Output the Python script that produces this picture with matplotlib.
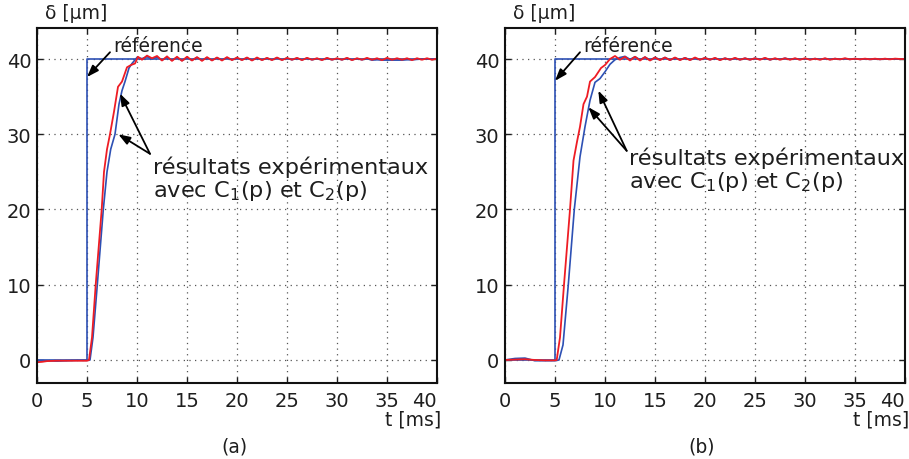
import matplotlib
matplotlib.use('Agg')
import matplotlib.pyplot as plt

plt.rcParams['font.family'] = ['DejaVu Sans']

# shared sample times for the settled part (ms)
settle_t = [10.5, 11, 11.5, 12, 12.5, 13, 13.5, 14, 14.5, 15, 15.5, 16, 16.5, 17, 17.5,
            18, 18.5, 19, 19.5, 20, 20.5, 21, 21.5, 22, 22.5, 23, 23.5, 24, 24.5, 25,
            25.5, 26, 26.5, 27, 27.5, 28, 28.5, 29, 29.5, 30, 30.5, 31, 31.5, 32, 32.5,
            33, 33.5, 34, 34.5, 35, 35.5, 36, 36.5, 37, 37.5, 38, 38.5, 39, 39.5, 40]

ref_t = [0, 5, 5, 40]
ref_v = [0, 0, 40, 40]

# panel (a)
a_red_t = [0, 0.5, 1, 2, 3, 4, 5, 5.2, 5.5, 5.87, 6.47, 6.7, 7.0, 7.3, 7.7, 8.1, 8.5,
           9.0, 9.4, 9.8, 10.1]
a_red_v = [-0.3, -0.25, -0.15, -0.1, -0.1, -0.1, -0.1, 0, 3, 10, 20, 25, 28, 30, 33,
           36.3, 37.0, 38.9, 39.2, 39.4, 40.3]
a_red_s = [39.9, 40.45, 40.1, 40.4, 39.8, 40.35, 39.75, 40.3, 39.75, 40.3, 39.8, 40.25,
           39.75, 40.25, 39.8, 40.2, 39.8, 40.25, 39.85, 40.2, 39.85, 40.2, 39.8, 40.2,
           39.85, 40.15, 39.85, 40.2, 39.85, 40.15, 39.9, 40.15, 39.85, 40.15, 39.9, 40.1,
           39.85, 40.15, 39.9, 40.1, 39.9, 40.15, 39.85, 40.1, 39.9, 40.15, 39.9, 40.1,
           39.85, 40.15, 39.9, 40.1, 39.9, 40.1, 39.85, 40.1, 39.9, 40.1, 39.9, 40.05]
a_blue_t = [0, 1, 2, 3, 4, 5, 5.3, 5.6, 6.03, 6.63, 7.0, 7.37, 7.8, 8.2, 8.5, 8.8, 9.2,
            9.5, 10.0]
a_blue_v = [-0.1, -0.1, -0.15, -0.1, -0.05, -0.05, 0, 3, 10, 20, 25, 28, 30, 34, 35.8,
            37, 38.8, 39.4, 40.2]
a_blue_s = [40.05, 40.3, 40.0, 40.25, 39.85, 40.2, 39.85, 40.2, 39.8, 40.15, 39.85, 40.2,
            39.85, 40.15, 39.85, 40.15, 39.9, 40.15, 39.9, 40.1, 39.9, 40.15, 39.85, 40.1,
            39.9, 40.1, 39.9, 40.15, 39.9, 40.1, 39.9, 40.1, 39.9, 40.1, 39.9, 40.05,
            39.9, 40.1, 39.9, 40.05, 39.9, 40.1, 39.9, 40.05, 39.9, 40.05, 39.85, 39.9,
            39.85, 39.85, 39.85, 39.85, 39.85, 39.9, 39.9, 39.95, 40.0, 40.0, 40.0, 40.0]

# panel (b)
b_red_t = [0, 1, 2, 3, 4, 5, 5.17, 5.5, 5.9, 6.5, 6.85, 7.2, 7.5, 7.85, 8.2, 8.5, 9.0,
           9.6, 10.0]
b_red_v = [0, 0.05, 0.1, 0.0, -0.05, -0.05, 0, 3, 10, 20, 26.5, 29, 31, 34, 35, 37,
           37.6, 38.8, 39.2]
b_red_s = [40.0, 40.4, 39.9, 40.3, 39.8, 40.3, 39.8, 40.25, 39.8, 40.2, 39.85, 40.2,
           39.85, 40.2, 39.85, 40.15, 39.85, 40.2, 39.9, 40.15, 39.9, 40.15, 39.85, 40.1,
           39.9, 40.15, 39.9, 40.1, 39.9, 40.1, 39.9, 40.15, 39.9, 40.1, 39.9, 40.1,
           39.9, 40.1, 39.9, 40.1, 39.9, 40.05, 39.9, 40.1, 39.9, 40.05, 39.95, 40.1,
           39.95, 40.05, 39.95, 40.05, 39.95, 40.05, 39.95, 40.05, 39.95, 40.05, 40.0, 40.0]
b_blue_t = [0, 1, 2, 3, 4, 5, 5.4, 5.8, 6.33, 6.93, 7.5, 8.0, 8.5, 9.0, 9.5, 10.0]
b_blue_v = [0, 0.2, 0.25, -0.1, -0.1, -0.1, 0, 2, 10, 20, 27, 31, 34.5, 36.9, 37.4,
            38.3]
b_blue_s = [39.3, 39.9, 40.2, 40.35, 39.95, 40.3, 39.9, 40.25, 39.85, 40.2, 39.9, 40.2,
            39.85, 40.15, 39.9, 40.15, 39.9, 40.1, 39.9, 40.15, 39.9, 40.1, 39.9, 40.1,
            39.9, 40.1, 39.9, 40.1, 39.9, 40.1, 39.95, 40.1, 39.9, 40.05, 39.95, 40.1,
            39.95, 40.05, 39.95, 40.05, 39.95, 40.05, 39.95, 40.05, 39.95, 40.05, 39.95, 40.05,
            39.95, 40.05, 39.95, 40.0, 39.95, 40.0, 39.95, 40.0, 40.0, 40.0, 40.0, 40.0]

x_ticks = [0, 5, 10, 15, 20, 25, 30, 35, 40]
y_ticks = [0, 10, 20, 30, 40]

BLUE = '#2d50b4'
RED = '#ee1c24'
INK = '#1e1e1e'


def draw_panel(ax, red_t, red_v, red_s, blue_t, blue_v, blue_s, notes, tag):
    ax.plot(ref_t, ref_v, color=BLUE, lw=1.2)
    ax.plot(blue_t + settle_t, blue_v + blue_s, color=BLUE, lw=1.2)
    ax.plot(red_t + settle_t, red_v + red_s, color=RED, lw=1.3)

    ax.set_xlim(0, 40)
    ax.set_ylim(-3.06, 44.12)
    ax.set_xticks(x_ticks)
    ax.set_yticks(y_ticks)
    ax.grid(True, color='#555555', lw=0.9, linestyle=(0, (1, 3.5)))
    ax.tick_params(direction='in', length=4, width=1, top=True, right=True,
                   labelsize=14, colors=INK)
    ax.tick_params(axis='x', pad=6)
    ax.tick_params(axis='y', pad=4)
    # last x label sits flush with the right end of the axis
    ax.get_xticklabels()[-1].set_horizontalalignment('right')
    for sp in ax.spines.values():
        sp.set_linewidth(1.5)
        sp.set_color('#111111')

    arrow = dict(arrowstyle='-|>,head_length=0.7,head_width=0.25', color='black',
                 lw=1.3, shrinkA=0, shrinkB=0)
    ref_txt, ref_tail, ref_tip, res_pos, res_tail, res_tips = notes
    ax.text(ref_txt[0], ref_txt[1], 'référence', fontsize=13.5, color=INK)
    ax.annotate('', xy=ref_tip, xytext=ref_tail, arrowprops=arrow)
    for tip in res_tips:
        ax.annotate('', xy=tip, xytext=res_tail, arrowprops=arrow)
    ax.text(res_pos[0], res_pos[1], 'résultats expérimentaux', fontsize=16.2,
            color=INK)
    ax.text(res_pos[0], res_pos[2], 'avec C$_1$(p) et C$_2$(p)', fontsize=16.2,
            color=INK)

    ax.text(0.8, 45.4, 'δ [μm]', fontsize=13.5, color=INK, va='baseline',
            clip_on=False)
    ax.text(40.4, -8.6, 't [ms]', fontsize=13.5, color=INK, ha='right',
            va='baseline', clip_on=False)
    ax.text(19.7, -12.1, tag, fontsize=13.5, color=INK, ha='center',
            va='baseline', clip_on=False)


fig = plt.figure(figsize=(9.09, 4.6), dpi=100)
ax_a = fig.add_axes([37 / 909, 76 / 460, 400 / 909, 355 / 460])
ax_b = fig.add_axes([505 / 909, 76 / 460, 400 / 909, 355 / 460])

notes_a = ((7.6, 41.0), (7.3, 40.9), (5.0, 37.6), (11.6, 24.9, 21.8),
           (11.3, 27.4), [(8.13, 30.0), (8.3, 35.4)])
notes_b = ((7.8, 41.1), (7.5, 40.9), (5.0, 37.1), (12.4, 26.0, 23.0),
           (12.17, 27.8), [(8.33, 33.6), (9.33, 35.8)])

draw_panel(ax_a, a_red_t, a_red_v, a_red_s, a_blue_t, a_blue_v, a_blue_s, notes_a, '(a)')
draw_panel(ax_b, b_red_t, b_red_v, b_red_s, b_blue_t, b_blue_v, b_blue_s, notes_b, '(b)')

fig.savefig('out.png', dpi=100, facecolor='white')
